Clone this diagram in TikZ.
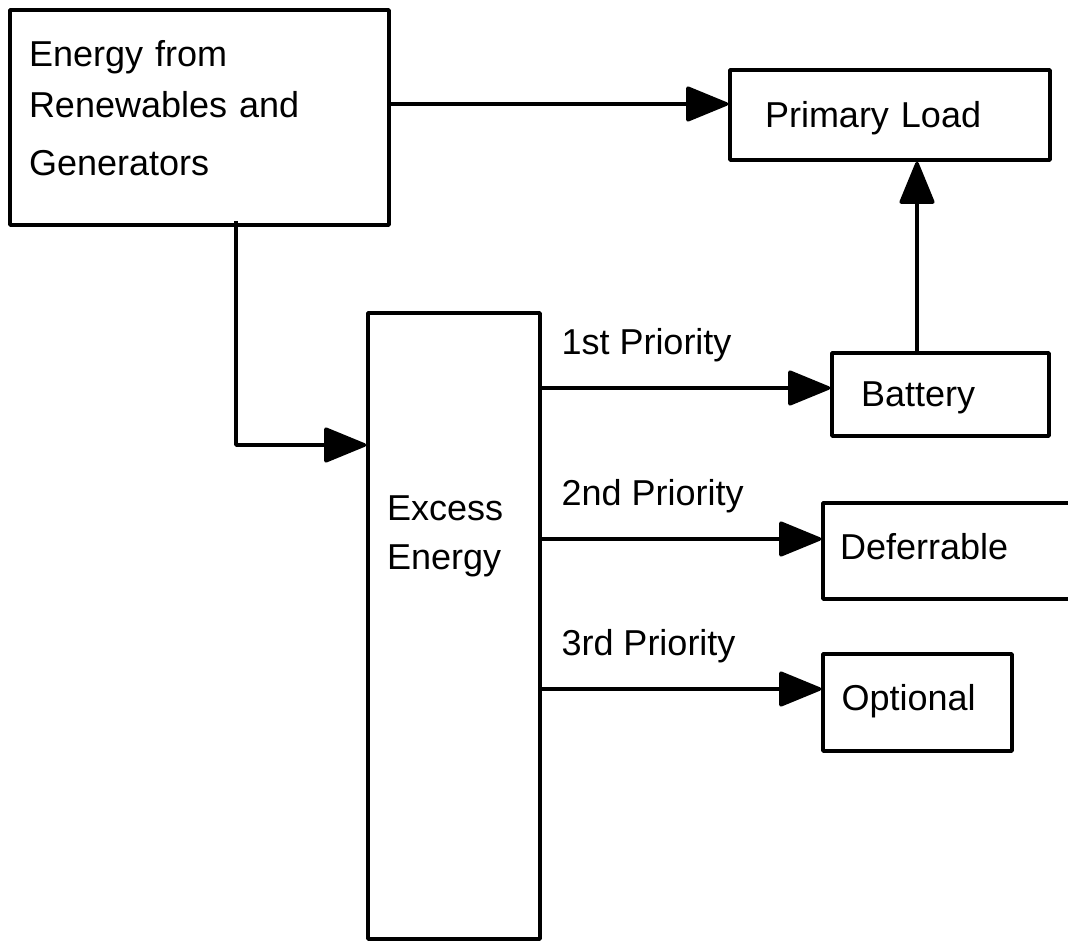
\documentclass[tikz,border=0pt]{standalone}
\usepackage{fontspec}
\setmainfont{Liberation Sans}
\usetikzlibrary{arrows.meta,calc}

\begin{document}
\begin{tikzpicture}[x=1pt,y=-1pt]
        \tikzset{box/.style = {shape=rectangle,draw,line width=3.5pt,line join=round,align=left,font=\fontsize{36}{51}\selectfont}}
        \tikzset{edge/.style = {line width=3.5pt,line join=round,-{Triangle[length=45pt,width=36pt,round]}}}
        \tikzset{prio/.style = {pos=0,anchor=base west,inner sep=0pt,xshift=18pt,yshift=34pt,font=\fontsize{36}{51}\selectfont}}
        \useasboundingbox (0,0) rectangle (1068,942);
        \clip (0,0) rectangle (1068,942);
        % boxes
        \node[box, minimum width=379pt, minimum height=215pt, inner xsep=19pt, text width=341pt, text depth=129pt] (energy) at (199.5,117.5) {Energy from\\Renewables and\\[7pt]Generators};
        \node[box, minimum width=320pt, minimum height=90pt, inner xsep=35pt, text width=250pt, text height=26pt, text depth=2pt] (primary) at (890,115) {Primary Load};
        \node[box, minimum width=172pt, minimum height=626pt, inner xsep=19pt, text width=134pt, text depth=236pt] (excess) at (454,626) {Excess\\[-2pt]Energy};
        \node[box, minimum width=217pt, minimum height=83pt, inner xsep=29pt, text width=159pt, text height=26pt, text depth=3pt] (battery) at (940.5,394.5) {Battery};
        \node[box, minimum width=257pt, minimum height=96pt, inner xsep=17pt, text width=223pt, text height=26pt, text depth=10pt] (deferrable) at (951.5,551) {Deferrable};
        \node[box, minimum width=189pt, minimum height=97pt, inner xsep=18.5pt, text width=152pt, text height=26pt, text depth=11pt] (optional) at (917.5,702.5) {Optional};
        % connectors
        \coordinate (feedin) at ($(primary.west)+(0,-11)$);
        \coordinate (excessin) at ($(excess.west)+(0,-181)$);
        \coordinate (batout) at ($(battery.north)+(-23.5,0)$);
        \coordinate (first) at ($(battery.west)+(0,-6.5)$);
        \coordinate (second) at ($(deferrable.west)+(0,-12)$);
        \coordinate (third) at ($(optional.west)+(0,-13.5)$);
        \draw[edge] (energy.east |- feedin) to (feedin);
        \draw[edge] ([xshift=36.5pt,yshift=6pt]energy.south) |- (excessin);
        \draw[edge] (batout) to (batout |- primary.south);
        \draw[edge] (excess.east |- first) to node[prio] {1st Priority} (first);
        \draw[edge] (excess.east |- second) to node[prio] {2nd Priority} (second);
        \draw[edge] (excess.east |- third) to node[prio] {3rd Priority} (third);
\end{tikzpicture}
\end{document}
